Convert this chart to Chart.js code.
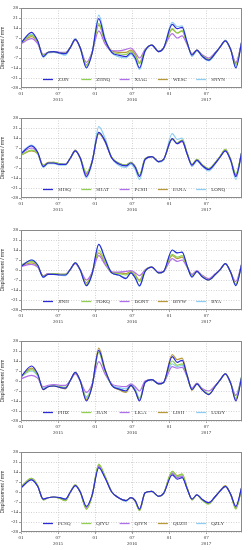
<!DOCTYPE html>
<html><head><meta charset="utf-8">
<script src="https://cdn.jsdelivr.net/npm/chart.js@4.4.0/dist/chart.umd.min.js"></script>
<style>
html,body{margin:0;padding:0;background:#fff;width:251px;height:550px;overflow:hidden;position:relative}
.p{position:absolute;left:0;width:251px;height:110px}
</style></head><body>
<div class="p" style="top:0"><canvas id="c0" width="251" height="110"></canvas></div>
<div class="p" style="top:110px"><canvas id="c1" width="251" height="110"></canvas></div>
<div class="p" style="top:222px"><canvas id="c2" width="251" height="110"></canvas></div>
<div class="p" style="top:333px"><canvas id="c3" width="251" height="110"></canvas></div>
<div class="p" style="top:444px"><canvas id="c4" width="251" height="110"></canvas></div>
<script>
// months since Jan 2015 (knots of the curves)
const months = [0, 1.7, 2.7, 3.6, 4.4, 5.3, 6.3, 7.2, 8.0, 8.8, 9.6, 10.6, 11.5, 12.6, 13.6, 14.7, 15.8, 17.0, 17.8, 18.5, 19.2, 20.1, 21.2, 22.3, 23.1, 24.5, 25.3, 26.1, 26.9, 27.7, 28.5, 29.3, 30.4, 31.5, 32.3, 33.1, 34.0, 34.8, 35.8];
const monthTicks = [0, 6, 12, 18, 24, 30];
const monthTickLabels = ['01', '07', '01', '07', '01', '07'];
const yearLabels = ['', '2015', '', '2016', '', '2017'];
const yMin = -28, yMax = 28, yStep = 7;
const xMax = 35.8;
const colors = ['#2b2bd6', '#8fd14f', '#b06ee8', '#b89a3a', '#8ccdf2'];

// Panel 1
const names1 = ['ZJJN', 'ZHNQ', 'XIAG', 'WESC', 'SNYN'];
const zjjn = [3.5, 11, 5, -6, -3, -2.5, -3.5, -4, 0.5, 6, 0, -14, -4, 20.5, 6, -3, -5, -6, -3.5, -7, -14, -2, 2, -2.5, 0, 16.5, 13.5, 14.5, 4, -5, -1.5, -5.5, -8.5, -3.5, 1, 5, -1.5, -14, 5.5];
const zhnq = [3.5, 9, 4.5, -5, -3, -2.5, -3.5, -3.5, 0.5, 6, 0, -12, -3.5, 17, 5, -2.5, -4, -4.5, -2.5, -5.5, -11, -1.5, 2, -2.5, 0, 13.5, 10.5, 12, 3.5, -4.5, -1.5, -5, -8, -3.5, 1, 5, -1.5, -12, 5];
const xiag = [3, 6.5, 3, -4.5, -3, -2.5, -3, -3, 0.5, 5.5, 0, -10, -3, 12, 3, -2, -2, -1, 0, -3, -7, -1, 2, -2.5, 0, 10, 7, 8.5, 2.5, -4, -1.5, -4.5, -7, -3, 1, 5, -1.5, -10, 5];
const wesc = [3.5, 8, 4, -5, -3, -2.5, -3.5, -3.5, 0.5, 6, 0, -12, -3.5, 16, 5, -2, -3, -3, -1.5, -4.5, -10, -1.5, 2, -2.5, 0, 13, 10.5, 12, 3.5, -4.5, -1.5, -5, -8, -3.5, 1, 5, -1.5, -11, 5];
const snyn = [3.5, 9.5, 4.5, -6.5, -3.5, -3, -4, -5, 0.5, 6.5, -0.5, -13, -4, 23, 7, -3.5, -6, -7, -4.5, -8, -15, -2.5, 2, -2.5, 0, 18, 15, 15.5, 4.5, -6, -2, -6, -9, -4, 1, 5.5, -1.5, -13.5, 5.5];

// Panel 2
const names2 = ['SHSQ', 'SHAT', 'PCSH', 'PANA', 'LONQ'];
const shsq = [3, 8.5, 4, -6, -3.5, -3.5, -4.5, -4.5, 0, 5, 0, -13, -3, 18, 12, 0, -4, -5.5, -3.5, -6.5, -13, -1, 1, -2.5, -1, 13.5, 10, 12, 3, -5, -1.5, -5, -8, -3.5, 1, 5, -2, -13, 5];
const shat = [2, 5.5, 3, -5, -3.5, -3, -4, -4.5, 0, 5, 0, -10, -2.5, 18, 12, 0.5, -3.5, -5, -3, -6, -12, -0.5, 1, -2.5, -1, 13, 10.5, 12.5, 3.5, -4.5, -1, -4.5, -7.5, -3, 1.5, 6, -1.5, -11, 5];
const pcsh = [3, 7, 3.5, -5.5, -3.5, -3.5, -4.5, -4.5, 0, 5, 0, -12, -3, 17.5, 11.5, 0, -4, -5, -3, -6, -12.5, -1, 1, -2.5, -1, 13, 10, 11.5, 3, -5, -1.5, -5, -8, -3.5, 1, 5, -2, -12, 5];
const pana = [2, 5, 3, -5, -3, -3, -4, -4.5, 0, 5.5, 0, -11, -2.5, 17, 11.5, 0.5, -3.5, -5, -3, -6, -12, -0.5, 1, -2.5, -1, 13.5, 10.5, 12.5, 3.5, -4.5, -1, -4.5, -7.5, -3, 1.5, 6, -1.5, -12, 5];
const lonq = [3.5, 9, 4, -6.5, -4, -4, -5, -5, 0, 5.5, -0.5, -14, -3.5, 22, 14, 0, -5, -6.5, -4.5, -8, -15, -1.5, 1, -3, -1.5, 17, 13, 14, 3.5, -6, -2, -5.5, -9, -4, 1, 5.5, -2.5, -15, 5.5];

// Panel 3
const names3 = ['JINH', 'FDKQ', 'DONT', 'BIYW', 'BYA'];
const jinh = [2.5, 7, 3.5, -5, -3, -3, -3.5, -3.5, 0.5, 5, 0, -11, -3, 18, 8, -2, -3.5, -6, -2, -5.5, -11, -1, 2, -2, -1, 14, 12, 12.5, 3, -5, -1, -4.5, -7, -3, 0.5, 4.5, -2, -11, 5];
const fdkq = [3.5, 6, 3, -4.5, -3, -2.5, -3, -3, 0.5, 5, 0, -10, -2.5, 14, 6, -2, -2.5, -3.5, -1.5, -4, -8, -0.5, 2, -2, -1, 11, 9, 10, 2.5, -4, -1, -4, -7, -3, 0.5, 4.5, -2, -10, 5];
const dont = [2.5, 4, 2, -4, -2.5, -2.5, -3, -3, 0.5, 4.5, 0, -7, -2, 10, 4, -1.5, -1.5, -1, -0.5, -2, -4, 0, 2, -1.5, -1, 8, 6, 7, 2, -3, -0.5, -3.5, -6, -2.5, 0.5, 4.5, -2, -8, 5];
const biyw = [3, 5, 2.5, -4, -2.5, -2.5, -3, -3, 0.5, 5, 0, -9, -2, 12, 5, -1.5, -2, -2.5, -1, -3.5, -7, 0, 2, -2, -1, 10, 8, 9, 2.5, -3.5, -1, -4, -7, -3, 0.5, 4.5, -2, -10, 5];
const bya = [3, 7, 3.5, -5, -3, -3, -3.5, -4, 0.5, 5, -0.5, -11, -3.5, 18, 8.5, -2, -3.5, -5.5, -2, -5.5, -11.5, -1, 2, -2, -1, 14, 12, 12.5, 3, -4.5, -1, -4.5, -7, -3, 0.5, 4.5, -2, -11, 5];

// Panel 4
const names4 = ['PHIZ', 'JIAN', 'LIGA', 'LISH', 'LUOY'];
const phiz = [3, 10.5, 5, -6, -4, -3.5, -4.5, -5, 0.5, 6, 0, -14, -4, 21.5, 8, -3, -5.5, -7, -3, -7, -14, -1, 1, -2, -1, 17, 13, 14.5, 4, -6, -2, -6, -9.5, -3.5, 1, 5, -2, -14, 4];
const jian = [3, 8, 4, -5.5, -4, -3.5, -4, -4.5, 0.5, 6, 0, -12, -3.5, 20, 7, -3, -5.5, -7, -3, -6.5, -13, -1, 1, -2, -1, 14, 11, 12, 3.5, -6, -2, -5.5, -9, -3.5, 1, 5, -2, -12, 4];
const liga = [1.5, 4, 2, -4, -3, -2.5, -3, -3, 0.5, 5, 0, -8, -2.5, 13.5, 5, -2, -3.5, -4, -2, -4, -7, 0, 1, -1.5, -1, 10, 9, 9.5, 3, -5, -1.5, -5, -7, -3, 1, 5, -2, -10, 3];
const lish = [3, 9, 4.5, -6, -4, -3.5, -4.5, -5.5, 0.5, 6, 0, -13, -4, 23, 8.5, -3, -6, -8, -3.5, -7, -13.5, -1, 1, -2, -1, 18.5, 15, 16, 4.5, -6.5, -2, -6, -9.5, -3.5, 1, 5, -2, -13, 4];
const luoy = [3, 7, 3.5, -5, -3.5, -3, -4, -4.5, 0.5, 5.5, 0, -11, -3, 20, 7, -2.5, -4.5, -5.5, -2.5, -5.5, -12, -0.5, 1, -2, -1, 12, 10, 11, 3.5, -5.5, -2, -5.5, -9, -3.5, 1, 5, -2, -10, 4];

// Panel 5
const names5 = ['PCSQ', 'QIYU', 'QIYN', 'QUZH', 'QZLY'];
const pcsq = [3, 8.5, 4, -5, -4, -3.5, -4, -5, 0, 4.5, 0, -10, -2.5, 17, 10, 0, -4, -6, -4, -6, -12, -0.5, 0.5, -3, -1, 12, 9, 10, 2.5, -5, -2, -5, -7.5, -3, 1, 4, -2, -10, 4];
const qiyu = [3.5, 9.5, 4.5, -5.5, -4, -3.5, -4.5, -6, 0, 5, 0, -12, -3, 19.5, 11, 0, -4, -6, -4, -6.5, -13, -0.5, 0.5, -3, -1, 14.5, 11, 12.5, 3, -5.5, -2, -5.5, -8.5, -3, 1, 4, -2, -12, 4];
const qiyn = [3, 9, 4, -5, -4, -3.5, -4, -5.5, 0, 4.5, 0, -11, -2.5, 18, 10.5, 0, -4, -6, -4, -6, -12, -0.5, 0.5, -3, -1, 13, 10, 11, 2.5, -5, -2, -5, -7.5, -3, 1, 4, -2, -11, 4];
const quzh = [3.5, 9.5, 4.5, -5.5, -4, -3.5, -4.5, -6, 0, 5, 0, -12, -3, 19, 11, 0, -4, -6, -4, -6.5, -13, -0.5, 0.5, -3, -1, 14.5, 11.5, 12.5, 3, -5.5, -2, -5.5, -8, -3, 1, 4.5, -2, -11.5, 4];
const qzly = [3, 9, 4, -5, -4, -3.5, -4, -5, 0, 4.5, 0, -11, -2.5, 18.5, 11, 0, -4, -6.5, -4, -6, -12.5, -0.5, 0.5, -3, -1, 13.5, 10.5, 11.5, 2.5, -5, -2, -5, -8, -3, 1, 4, -2, -11, 4];

const FONT = 'Liberation Serif';

const framePlugin = {
  id: 'frame',
  afterDatasetsDraw(chart) {
    const a = chart.chartArea, ctx = chart.ctx;
    ctx.save();
    ctx.strokeStyle = '#8a8a8a';
    ctx.lineWidth = 1;
    ctx.setLineDash([]);
    ctx.strokeRect(a.left + 0.5, a.top + 0.5, a.right - a.left - 1, a.bottom - a.top - 1);
    // legend inside plot area
    const ys = chart.scales.y;
    const ly = Math.round(ys.getPixelForValue(-22)) + 0.5;
    ctx.font = '5px "' + FONT + '"';
    ctx.textBaseline = 'middle';
    ctx.fillStyle = '#333';
    chart.data.datasets.forEach((ds, i) => {
      const x0 = a.left + 22 + i * 38.3;
      ctx.strokeStyle = ds.borderColor;
      ctx.lineWidth = 1.3;
      ctx.beginPath();
      ctx.moveTo(x0, ly);
      ctx.lineTo(x0 + 10, ly);
      ctx.stroke();
      ctx.fillText(ds.label, x0 + 15, ly);
    });
    ctx.restore();
  }
};

function makeChart(id, names, series) {
  new Chart(document.getElementById(id), {
    type: 'line',
    data: {
      datasets: series.map((vals, i) => ({
        label: names[i],
        data: vals.map((v, k) => ({ x: months[k], y: v })),
        borderColor: colors[i],
        backgroundColor: colors[i],
        borderWidth: 1.2,
        pointRadius: 0,
        cubicInterpolationMode: 'monotone',
        fill: false
      }))
    },
    options: {
      responsive: false,
      animation: false,
      layout: { padding: { top: 8, right: 9, left: 0, bottom: 0 } },
      plugins: { legend: { display: false }, tooltip: { enabled: false } },
      scales: {
        x: {
          type: 'linear', min: 0, max: xMax,
          afterBuildTicks: ax => { ax.ticks = monthTicks.map(v => ({ value: v })); },
          afterFit: s => { s.height = 22; },
          ticks: {
            autoSkip: false, maxRotation: 0, padding: 1,
            font: { family: FONT, size: 5 }, color: '#333',
            callback: (v, i) => yearLabels[i] ? [monthTickLabels[i], yearLabels[i]] : monthTickLabels[i]
          },
          grid: { color: '#c8c8c8', lineWidth: 0.8, tickLength: 2, tickColor: '#888' },
          border: { display: false, dash: [1, 1.5] }
        },
        y: {
          min: yMin, max: yMax,
          afterBuildTicks: ax => { const t = []; for (let v = yMin; v <= yMax; v += yStep) t.push({ value: v }); ax.ticks = t; },
          afterFit: s => { s.width = 21; },
          ticks: { padding: 1, font: { family: FONT, size: 5 }, color: '#333' },
          title: { display: true, text: 'Displacement / mm', font: { family: 'Liberation Sans', size: 5 }, color: '#333', padding: 0 },
          grid: { color: '#c8c8c8', lineWidth: 0.8, tickLength: 2, tickColor: '#888' },
          border: { display: false, dash: [1, 1.5] }
        }
      }
    },
    plugins: [framePlugin]
  });
}

makeChart('c0', names1, [zjjn, zhnq, xiag, wesc, snyn]);
makeChart('c1', names2, [shsq, shat, pcsh, pana, lonq]);
makeChart('c2', names3, [jinh, fdkq, dont, biyw, bya]);
makeChart('c3', names4, [phiz, jian, liga, lish, luoy]);
makeChart('c4', names5, [pcsq, qiyu, qiyn, quzh, qzly]);
</script>
</body></html>
